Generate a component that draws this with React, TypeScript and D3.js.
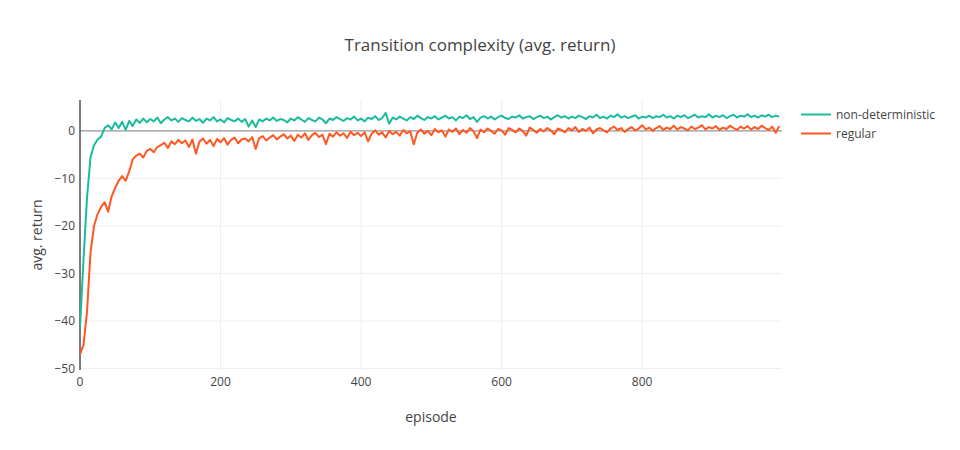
import React, { useRef, useEffect } from 'react';
import * as d3 from 'd3';

// episodes are sampled every 5 steps, 0..995 (plus the last episode 999)
const EPISODE_STEP = 5;

const nonDeterministic = [
  -41.5, -27, -14, -5.5, -3.0, -1.8, -1.2, 0.6, 1.2, 0.3,
  1.8, 0.6, 1.9, 0.2, 2.1, 1.0, 2.4, 1.7, 2.6, 1.8,
  2.5, 2.0, 2.8, 1.6, 2.4, 2.9, 2.2, 2.6, 1.9, 2.7,
  2.3, 2.0, 2.8, 2.1, 2.5, 1.7, 2.6, 2.2, 2.9, 2.0,
  2.4, 1.8, 2.7, 2.3, 2.0, 2.6, 1.9, 2.5, 0.9, 2.2,
  0.8, 2.4, 2.0, 2.6, 2.2, 2.8, 2.1, 2.5, 2.3, 1.8,
  2.6, 2.2, 2.9, 2.4, 1.9, 2.7, 2.3, 2.0, 2.8, 2.4,
  1.6, 2.6, 2.3, 2.9, 2.5, 2.1, 2.7, 2.4, 3.0, 2.2,
  2.6, 2.0, 2.8, 2.5, 3.1, 2.3, 2.7, 3.8, 1.5, 2.8,
  2.4, 3.0, 2.6, 2.2, 2.9, 2.5, 3.2, 2.7, 2.3, 2.9,
  2.6, 3.1, 2.4, 2.8, 3.2, 2.6, 2.9, 2.2, 3.0, 2.7,
  3.3, 2.5, 2.9, 1.9, 2.8, 3.1, 2.6, 3.0, 2.4, 2.9,
  3.2, 2.7, 2.5, 3.0, 2.8, 3.3, 2.6, 2.9, 3.1, 2.5,
  2.9, 3.2, 2.7, 3.0, 2.4, 2.9, 3.3, 2.8, 3.1, 2.6,
  3.0, 2.7, 3.2, 2.9, 2.5, 3.1, 2.8, 3.4, 2.7, 3.0,
  2.6, 3.2, 2.9, 3.5, 2.8, 3.1, 2.7, 3.0, 3.3, 2.6,
  3.0, 2.8, 3.2, 2.7, 3.1, 2.9, 3.4, 2.8, 3.1, 2.6,
  3.2, 2.9, 3.3, 2.7, 3.0, 3.4, 2.8, 3.1, 2.9, 3.5,
  2.8, 3.2, 2.9, 3.3, 2.7, 3.1, 3.4, 2.8, 3.2, 3.0,
  3.5, 2.9, 3.2, 2.8, 3.3, 3.0, 3.4, 2.9, 3.2, 3.0,
];

const regular = [
  -47, -45, -38, -25.5, -20, -17.5, -16, -15, -17, -13.8,
  -12, -10.5, -9.5, -10.5, -8.5, -6, -5.2, -4.8, -5.6, -4.2,
  -3.8, -4.5, -3.4, -3.0, -2.5, -3.6, -2.2, -2.8, -1.9, -2.6,
  -2.0, -3.4, -1.8, -4.8, -2.3, -1.6, -2.7, -1.9, -3.2, -1.7,
  -2.4, -1.5, -2.9, -1.9, -1.4, -2.6, -1.8, -1.6, -2.2, -1.3,
  -3.8, -1.5, -1.1, -2.0, -1.4, -0.9, -1.8, -1.2, -0.7, -1.6,
  -1.0, -2.1, -0.8, -1.4, -0.5, -1.9, -0.9, -0.4, -1.3, -0.8,
  -2.8, -0.6, -1.2, -0.3, -1.0, -0.5, -1.5, -0.2, -0.9, -0.4,
  -1.1, -0.3, -2.2, -0.6, 0.1, -0.8, -0.3, -1.4, 0.0, -0.7,
  -0.2, -1.0, 0.2, -0.5, -0.1, -2.8, -0.4, 0.3, -0.6, 0.0,
  -0.9, 0.4, -0.3, 0.1, -1.2, 0.3, -0.2, 0.5, -0.7, 0.2,
  -0.4, 0.6, -0.1, -1.5, 0.3, -0.3, 0.5, 0.0, -0.6, 0.4,
  0.1, -0.8, 0.6, 0.2, -0.3, 0.5, 0.0, -1.0, 0.7, 0.2,
  -0.4, 0.4, -0.1, 0.6, 0.1, -0.7, 0.5, 0.2, -0.3, 0.6,
  0.1, 0.8, -0.2, 0.4, 0.0, 0.7, -0.5, 0.3, 0.6, 0.1,
  -0.3, 0.5, 0.9, 0.2, 0.6, -0.2, 0.4, 0.8, 0.1, 0.5,
  1.2, 0.3, 0.7, 0.0, 0.6, 1.0, 0.2, 0.7, 0.4, 1.1,
  0.3, 0.8, 0.5, 0.1, 0.9, 0.4, 0.7, 1.2, 0.3, 0.8,
  0.5, 1.0, 0.2, 0.7, 0.4, 1.1, 0.6, 0.2, 0.9, 0.5,
  1.0, 0.3, 0.8, 0.4, 1.1, 0.6, 0.2, 0.9, -0.4, 1.0,
];

const seriesNames = ['non-deterministic', 'regular'];
const seriesColors = ['#1abc9c', '#ff5722'];
const xTicks = [0, 200, 400, 600, 800];
const yTicks = [-50, -40, -30, -20, -10, 0];

const App = () => {
  const svgRef = useRef<SVGSVGElement>(null);
  const width = 960;
  const height = 450;

  useEffect(() => {
    const svg = d3.select(svgRef.current);
    svg.selectAll('*').remove();

    const margin = { top: 100, right: 178, bottom: 80, left: 80 };
    const plotW = width - margin.left - margin.right;
    const plotH = height - margin.top - margin.bottom;
    const font = '"Open Sans", "Liberation Sans", sans-serif';

    const x = d3.scaleLinear().domain([0, 999]).range([0, plotW]);
    const y = d3.scaleLinear().domain([-50.3, 6.5]).range([plotH, 0]);

    svg.append('rect').attr('width', width).attr('height', height).attr('fill', '#fff');

    const plot = svg.append('g').attr('transform', `translate(${margin.left}, ${margin.top})`);

    plot.append('clipPath').attr('id', 'plot-clip')
      .append('rect').attr('width', plotW).attr('height', plotH);

    // Grid
    plot.append('g')
      .selectAll('line.xg')
      .data(xTicks.filter(d => d !== 0))
      .enter()
      .append('line')
      .attr('x1', d => x(d)).attr('x2', d => x(d))
      .attr('y1', 0).attr('y2', plotH)
      .attr('stroke', '#eee').attr('stroke-width', 1);

    plot.append('g')
      .selectAll('line.yg')
      .data(yTicks.filter(d => d !== 0))
      .enter()
      .append('line')
      .attr('x1', 0).attr('x2', plotW)
      .attr('y1', d => y(d)).attr('y2', d => y(d))
      .attr('stroke', '#eee').attr('stroke-width', 1);

    // Zero lines
    plot.append('line')
      .attr('x1', 0).attr('x2', plotW)
      .attr('y1', y(0)).attr('y2', y(0))
      .attr('stroke', '#444').attr('stroke-opacity', 0.7).attr('stroke-width', 1);
    plot.append('line')
      .attr('x1', x(0)).attr('x2', x(0))
      .attr('y1', 0).attr('y2', plotH)
      .attr('stroke', '#444').attr('stroke-opacity', 0.7).attr('stroke-width', 2);

    // Lines
    const line = d3.line<number>()
      .x((_, i) => x(Math.min(i * EPISODE_STEP, 999)))
      .y(d => y(d));

    [nonDeterministic, regular].forEach((values, i) => {
      plot.append('path')
        .datum(values)
        .attr('clip-path', 'url(#plot-clip)')
        .attr('fill', 'none')
        .attr('stroke', seriesColors[i])
        .attr('stroke-width', 2)
        .attr('stroke-linejoin', 'round')
        .attr('d', line);
    });

    // Tick labels
    plot.append('g')
      .selectAll('text')
      .data(xTicks)
      .enter()
      .append('text')
      .attr('x', d => x(d))
      .attr('y', plotH + 16)
      .attr('text-anchor', 'middle')
      .style('font-family', font)
      .style('font-size', '12px')
      .attr('fill', '#444')
      .text(d => d3.format('d')(d));

    plot.append('g')
      .selectAll('text')
      .data(yTicks)
      .enter()
      .append('text')
      .attr('x', -5)
      .attr('y', d => y(d))
      .attr('dy', '0.35em')
      .attr('text-anchor', 'end')
      .style('font-family', font)
      .style('font-size', '12px')
      .attr('fill', '#444')
      .text(d => (d < 0 ? '\u2212' + Math.abs(d) : String(d)));

    // Axis titles
    svg.append('text')
      .attr('x', margin.left + plotW / 2)
      .attr('y', 422)
      .attr('text-anchor', 'middle')
      .style('font-family', font)
      .style('font-size', '14px')
      .attr('fill', '#444')
      .text('episode');

    svg.append('text')
      .attr('transform', `translate(42, ${margin.top + plotH / 2}) rotate(-90)`)
      .attr('text-anchor', 'middle')
      .style('font-family', font)
      .style('font-size', '14px')
      .attr('fill', '#444')
      .text('avg. return');

    // Title
    svg.append('text')
      .attr('x', width / 2)
      .attr('y', 51)
      .attr('text-anchor', 'middle')
      .style('font-family', font)
      .style('font-size', '17px')
      .attr('fill', '#444')
      .text('Transition complexity (avg. return)');

    // Legend
    const legend = svg.append('g').attr('transform', 'translate(801, 114.5)');
    seriesNames.forEach((name, i) => {
      const item = legend.append('g').attr('transform', `translate(0, ${i * 19})`);
      item.append('line')
        .attr('x1', 0).attr('x2', 30)
        .attr('stroke', seriesColors[i])
        .attr('stroke-width', 2);
      item.append('text')
        .attr('x', 35)
        .attr('dy', '0.35em')
        .style('font-family', font)
        .style('font-size', '12px')
        .attr('fill', '#444')
        .text(name);
    });
  }, []);

  return (
    <svg
      ref={svgRef}
      width={width}
      height={height}
      style={{ display: 'block', position: 'absolute', left: 0, top: 0 }}
    />
  );
};

export default App;
